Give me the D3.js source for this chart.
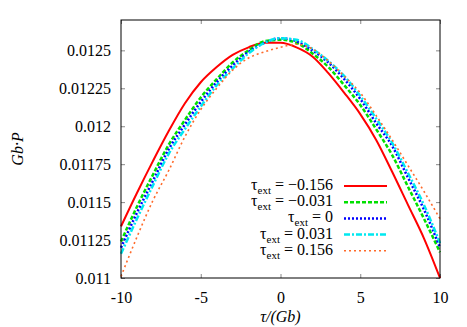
<!DOCTYPE html>
<html>
<head>
<meta charset="utf-8">
<script src="https://cdn.jsdelivr.net/npm/d3@7"></script>
<style>
  body { margin: 0; background: #fff; }
  svg text { font-family: "Liberation Serif", "Times New Roman", serif !important; }
</style>
</head>
<body>
<script>
var width = 467;
var height = 327;

// x positions (tau / Gb)
var tau = [-10, -9, -8, -7, -6, -5, -4, -3, -2, -1, 0, 1, 2, 3, 4, 5, 6, 7, 8, 9, 10];

// Gb.P for each tau_ext
var pNeg156 = [0.01134, 0.01156, 0.01177, 0.01197, 0.01215, 0.01229, 0.01239, 0.01247, 0.01252, 0.01255, 0.01255,
               0.01252, 0.01246, 0.01235, 0.01222, 0.01208, 0.01191, 0.01170, 0.01148, 0.01126, 0.01100];
var pNeg031 = [0.01124, 0.01147, 0.01168, 0.01188, 0.01204, 0.01219, 0.01231, 0.01242, 0.01250, 0.01256, 0.01257,
               0.01255, 0.01248, 0.01239, 0.01227, 0.01214, 0.01198, 0.01181, 0.01160, 0.01139, 0.01117];
var pZero   = [0.01120, 0.01143, 0.01164, 0.01185, 0.01201, 0.01216, 0.01229, 0.01240, 0.01249, 0.01255, 0.01258,
               0.01256, 0.01250, 0.01242, 0.01231, 0.01218, 0.01202, 0.01187, 0.01166, 0.01145, 0.01120];
var pPos031 = [0.01116, 0.01139, 0.01161, 0.01182, 0.01198, 0.01213, 0.01227, 0.01238, 0.01248, 0.01255, 0.01258,
               0.01257, 0.01251, 0.01243, 0.01233, 0.01220, 0.01205, 0.01189, 0.01169, 0.01148, 0.01123];
var pPos156 = [0.01101, 0.01127, 0.01151, 0.01171, 0.01193, 0.01211, 0.01225, 0.01237, 0.01245, 0.01249, 0.01252,
               0.01254, 0.01251, 0.01243, 0.01233, 0.01222, 0.01207, 0.01191, 0.01174, 0.01157, 0.01139];

var seriesLabels = ["\u22120.156", "\u22120.031", "0", "0.031", "0.156"];
var seriesValues = [pNeg156, pNeg031, pZero, pPos031, pPos156];
var seriesColors = ["#ff0000", "#00e000", "#0000ff", "#00e8f0", "#ff6a2a"];
var seriesDash = [null, "4,2", "2,2", "6,2,2,2", "2,3"];
var seriesWidth = [2, 2.5, 2.5, 2.5, 1.6];

var xTicks = [-10, -5, 0, 5, 10];
var yTicks = [0.011, 0.01125, 0.0115, 0.01175, 0.012, 0.01225, 0.0125];

var serif = "'Liberation Serif', 'Times New Roman', serif";

var margin = {top: 20, right: 27, bottom: 49, left: 121};
var plotW = width - margin.left - margin.right;
var plotH = height - margin.top - margin.bottom;

var svg = d3.select("body").append("svg")
    .attr("width", width)
    .attr("height", height)
    .style("font-family", serif);

var g = svg.append("g")
    .attr("transform", "translate(" + margin.left + "," + margin.top + ")");

var x = d3.scaleLinear().domain([-10, 10]).range([0, plotW]);
var y = d3.scaleLinear().domain([0.011, 0.0127]).range([plotH, 0]);

// ticks on all four sides, pointing inward
function styleTicks(sel) {
    sel.attr("font-family", null).attr("font-size", null);
    sel.select(".domain").remove();
    sel.selectAll(".tick line").attr("stroke", "#888");
    sel.selectAll(".tick text")
        .attr("fill", "#000")
        .style("font-family", serif)
        .style("font-size", "16px");
}

g.append("g")
    .attr("transform", "translate(0," + plotH + ")")
    .call(d3.axisBottom(x).tickValues(xTicks).tickSize(-4).tickPadding(14)
        .tickFormat(function(d) { return String(d); }))
    .call(styleTicks);

g.append("g")
    .call(d3.axisTop(x).tickValues(xTicks).tickSize(-4).tickFormat(""))
    .call(styleTicks);

g.append("g")
    .call(d3.axisLeft(y).tickValues(yTicks).tickSize(-4).tickPadding(10)
        .tickFormat(function(d) { return String(+d.toFixed(5)); }))
    .call(styleTicks);

g.append("g")
    .attr("transform", "translate(" + plotW + ",0)")
    .call(d3.axisRight(y).tickValues(yTicks).tickSize(-4).tickFormat(""))
    .call(styleTicks);

var line = d3.line()
    .x(function(d) { return x(d[0]); })
    .y(function(d) { return y(d[1]); })
    .curve(d3.curveMonotoneX);

seriesValues.forEach(function(vals, i) {
    g.append("path")
        .datum(tau.map(function(t, j) { return [t, vals[j]]; }))
        .attr("fill", "none")
        .attr("stroke", seriesColors[i])
        .attr("stroke-width", seriesWidth[i])
        .attr("stroke-dasharray", seriesDash[i])
        .attr("d", line);
});

// frame
g.append("rect")
    .attr("width", plotW)
    .attr("height", plotH)
    .attr("fill", "none")
    .attr("stroke", "#000")
    .attr("stroke-width", 1);

// legend
var legend = g.append("g").attr("transform", "translate(0,166)");
seriesLabels.forEach(function(lab, i) {
    var row = legend.append("g").attr("transform", "translate(0," + (i * 16.2) + ")");
    var t = row.append("text")
        .attr("x", 212)
        .attr("y", 4)
        .attr("text-anchor", "end")
        .style("font-size", "16px");
    t.append("tspan").text("\u03c4");
    t.append("tspan").attr("dy", 4).style("font-size", "11px").text("ext");
    t.append("tspan").attr("dy", -4).text(" = " + lab);
    row.append("line")
        .attr("x1", 223).attr("x2", 266)
        .attr("stroke", seriesColors[i])
        .attr("stroke-width", seriesWidth[i])
        .attr("stroke-dasharray", seriesDash[i]);
});

// axis titles
svg.append("text")
    .attr("x", margin.left + plotW / 2)
    .attr("y", 322)
    .attr("text-anchor", "middle")
    .style("font-size", "16px")
    .style("font-style", "italic")
    .text("\u03c4/(Gb)");

svg.append("text")
    .attr("transform", "translate(23," + (margin.top + plotH / 2) + ") rotate(-90)")
    .attr("text-anchor", "middle")
    .style("font-size", "16px")
    .style("font-style", "italic")
    .text("Gb\u00b7P");
</script>
</body>
</html>
